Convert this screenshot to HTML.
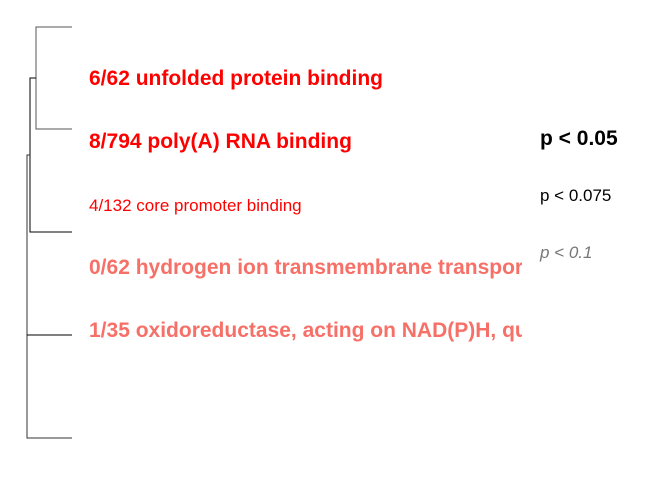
<!DOCTYPE html>
<html><head><meta charset="utf-8"><style>
html,body{margin:0;padding:0;background:#fff;width:672px;height:480px;overflow:hidden}
text{font-family:"Liberation Sans",Arial,sans-serif}
</style></head><body>
<svg id="c" width="672" height="480">
<defs><clipPath id="clip"><rect x="0" y="0" width="522" height="480"/></clipPath></defs>
<g id="tree" stroke="#000" stroke-width="1" fill="none">
<path d="M72 27H36V129H72" stroke="#555"/>
<path d="M36 78H30V232H72"/>
<path d="M30 155H27V438H72" stroke="#333"/>
<path d="M27 335H72"/>
</g>
<g id="labels" clip-path="url(#clip)"></g>
<g>
<text x="540" y="145" font-size="21" font-weight="bold" fill="#000">p &lt; 0.05</text>
<text x="540" y="201" font-size="17" fill="#000">p &lt; 0.075</text>
<text x="540" y="258" font-size="17" font-style="italic" fill="#777">p &lt; 0.1</text>
</g>
</svg>
<script>
const terms = ["6/62 unfolded protein binding","8/794 poly(A) RNA binding","4/132 core promoter binding","0/62 hydrogen ion transmembrane transporter activity","1/35 oxidoreductase, acting on NAD(P)H, quinone or similar compound as acceptor"];
const pvals = [0.01,0.02,0.06,0.03,0.03];
const direction = ["up","up","up","down","down"];
const rowY = [85,148,211,274,337];
const g = document.getElementById('labels');
for (let i=0;i<terms.length;i++){
  const t=document.createElementNS('http://www.w3.org/2000/svg','text');
  
  
  t.setAttribute('x',89);
  const big=pvals[i]<0.05;
  t.setAttribute('y',rowY[i]);
  t.setAttribute('font-size',big?21:17);
  if(big) t.setAttribute('font-weight','bold');
  t.setAttribute('fill',direction[i]==="up"?"#ff0000":"#f67068");
  t.textContent=terms[i];
  g.appendChild(t);
}
</script>
</body></html>
